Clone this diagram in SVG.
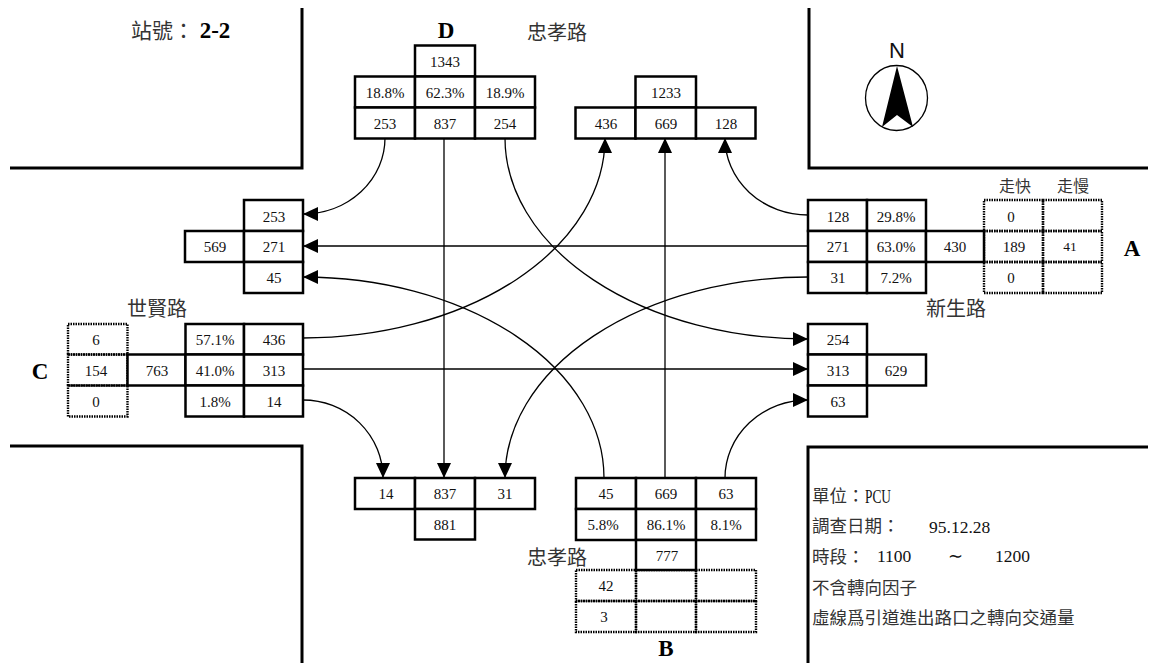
<svg xmlns="http://www.w3.org/2000/svg" width="1159" height="664" viewBox="0 0 1159 664">
<style>
text{font-family:"Liberation Serif","Noto Sans CJK TC",serif;font-size:15px;fill:#111;text-anchor:middle}
.cjk{font-family:"Noto Sans CJK TC","Liberation Serif",sans-serif;fill:#333;text-anchor:start;font-size:20px}
.leg{font-size:17.5px}
.hd{font-size:16px}
.ttl{font-size:21px}
.b{font-weight:bold;font-size:23px;fill:#000}
.n{font-size:17.5px;text-anchor:start}
.c{fill:#fff;stroke:#000;stroke-width:2.5}
.d{fill:none;stroke:#000;stroke-width:2.4;stroke-dasharray:1.5 1}
.road{fill:none;stroke:#000;stroke-width:3}
.con{fill:none;stroke:#000;stroke-width:1.3;marker-end:url(#ah)}
</style>
<defs><marker id="ah" markerUnits="userSpaceOnUse" markerWidth="16" markerHeight="15" refX="15" refY="7" orient="auto"><path d="M0 0L15 7L0 14Z" fill="#000"/></marker></defs>
<rect width="1159" height="664" fill="#fff"/>
<g id="roads">
<path class="road" d="M10 168H302V8"/>
<path class="road" d="M10 446H302V663"/>
<path class="road" d="M809 8V168H1148"/>
<path class="road" d="M808 663V447H1148"/>
</g>
<g id="title"><text class="cjk ttl" x="131" y="38">站號&#xFF1A;</text><text class="b" x="215" y="38">2-2</text></g>
<g id="compass">
<text x="897" y="58" style="font-family:'Liberation Sans',sans-serif;font-size:22px">N</text>
<ellipse cx="896.5" cy="98" rx="31" ry="32.5" fill="#fff" stroke="#000" stroke-width="1.3"/>
<path d="M897 66L882 127L897 115L913 127Z" fill="#000"/>
</g>
<g id="connectors">
<path class="con" d="M385 138A82 76 0 0 1 303 214"/>
<path class="con" d="M808 246H303"/>
<path class="con" d="M604 478A301 201 0 0 0 303 277"/>
<path class="con" d="M303 338A302 200 0 0 0 605 138"/>
<path class="con" d="M505 138A303 201 0 0 0 808 339"/>
<path class="con" d="M808 277A303 201 0 0 0 505 478"/>
<path class="con" d="M808 215A83 77 0 0 1 725 138"/>
<path class="con" d="M725 478A83 78 0 0 1 808 400"/>
<path class="con" d="M303 400A80 78 0 0 1 383 478"/>
<path class="con" d="M303 369H808"/>
<path class="con" d="M444 138V478"/>
<path class="con" d="M665 478V138"/>
</g>
<g id="node-D">
<rect class="c" x="415" y="45.5" width="60" height="31"/><text x="445" y="67">1343</text>
<rect class="c" x="355" y="76.5" width="60" height="31"/><text x="385" y="98">18.8%</text>
<rect class="c" x="415" y="76.5" width="60" height="31"/><text x="445" y="98">62.3%</text>
<rect class="c" x="475" y="76.5" width="60" height="31"/><text x="505" y="98">18.9%</text>
<rect class="c" x="355" y="107.5" width="60" height="31"/><text x="385" y="129">253</text>
<rect class="c" x="415" y="107.5" width="60" height="31"/><text x="445" y="129">837</text>
<rect class="c" x="475" y="107.5" width="60" height="31"/><text x="505" y="129">254</text>
<text class="b" x="446" y="38">D</text>
<text class="cjk" x="527" y="40">忠孝路</text>
</g>
<g id="node-D-in">
<rect class="c" x="635.5" y="76.5" width="60.5" height="31"/><text x="666" y="98">1233</text>
<rect class="c" x="575.5" y="107.5" width="60" height="31"/><text x="606" y="129">436</text>
<rect class="c" x="635.5" y="107.5" width="60.5" height="31"/><text x="666" y="129">669</text>
<rect class="c" x="696" y="107.5" width="59.5" height="31"/><text x="726" y="129">128</text>
</g>
<g id="node-C-in">
<rect class="c" x="244" y="200" width="59" height="31"/><text x="274" y="222">253</text>
<rect class="c" x="185" y="231" width="59" height="31"/><text x="215" y="252">569</text>
<rect class="c" x="244" y="231" width="59" height="31"/><text x="274" y="252">271</text>
<rect class="c" x="244" y="262" width="59" height="31"/><text x="274" y="283">45</text>
</g>
<g id="node-C">
<text class="cjk" x="127" y="316">世賢路</text>
<rect class="d" x="68" y="324" width="59.5" height="30.5"/><text x="96" y="345">6</text>
<rect class="d" x="68" y="354.5" width="59.5" height="31"/><text x="96" y="376">154</text>
<rect class="d" x="68" y="385.5" width="59.5" height="31"/><text x="96" y="407">0</text>
<rect class="c" x="127.5" y="354.5" width="58" height="31"/><text x="157" y="376">763</text>
<rect class="c" x="185.5" y="324" width="58.5" height="30.5"/><text x="215" y="345">57.1%</text>
<rect class="c" x="244" y="324" width="59" height="30.5"/><text x="274" y="345">436</text>
<rect class="c" x="185.5" y="354.5" width="58.5" height="31"/><text x="215" y="376">41.0%</text>
<rect class="c" x="244" y="354.5" width="59" height="31"/><text x="274" y="376">313</text>
<rect class="c" x="185.5" y="385.5" width="58.5" height="31"/><text x="215" y="407">1.8%</text>
<rect class="c" x="244" y="385.5" width="59" height="31"/><text x="274" y="407">14</text>
<text class="b" x="40" y="379">C</text>
</g>
<g id="node-A">
<text class="cjk hd" x="999" y="192">走快</text>
<text class="cjk hd" x="1057" y="192">走慢</text>
<rect class="d" x="984" y="200" width="59" height="31"/><text x="1011" y="222">0</text>
<rect class="d" x="1043" y="200" width="59" height="31"/>
<rect class="d" x="984" y="231" width="59" height="31"/><text x="1014" y="252">189</text>
<rect class="d" x="1043" y="231" width="59" height="31"/><text x="1070" y="251" style="font-size:13.5px">41</text>
<rect class="d" x="984" y="262" width="59" height="31"/><text x="1011" y="283">0</text>
<rect class="d" x="1043" y="262" width="59" height="31"/>
<rect class="c" x="808" y="200" width="59" height="31"/><text x="838" y="222">128</text>
<rect class="c" x="867" y="200" width="59" height="31"/><text x="896" y="222">29.8%</text>
<rect class="c" x="808" y="231" width="59" height="31"/><text x="838" y="252">271</text>
<rect class="c" x="867" y="231" width="59" height="31"/><text x="896" y="252">63.0%</text>
<rect class="c" x="926" y="231" width="58" height="31"/><text x="955" y="252">430</text>
<rect class="c" x="808" y="262" width="59" height="31"/><text x="838" y="283">31</text>
<rect class="c" x="867" y="262" width="59" height="31"/><text x="896" y="283">7.2%</text>
<text class="b" x="1132" y="256">A</text>
<text class="cjk" x="926" y="316">新生路</text>
</g>
<g id="node-A-in">
<rect class="c" x="808" y="324" width="59" height="30.5"/><text x="838" y="345">254</text>
<rect class="c" x="808" y="354.5" width="59" height="31"/><text x="838" y="376">313</text>
<rect class="c" x="867" y="354.5" width="59" height="31"/><text x="896" y="376">629</text>
<rect class="c" x="808" y="385.5" width="59" height="31"/><text x="838" y="407">63</text>
</g>
<g id="node-B-in">
<rect class="c" x="355" y="478" width="60" height="31"/><text x="386" y="499">14</text>
<rect class="c" x="415" y="478" width="60" height="31"/><text x="445" y="499">837</text>
<rect class="c" x="475" y="478" width="60" height="31"/><text x="505" y="499">31</text>
<rect class="c" x="415" y="509" width="60" height="30.5"/><text x="445" y="530">881</text>
</g>
<g id="node-B">
<rect class="d" x="576" y="570" width="60" height="31"/><text x="606" y="591">42</text>
<rect class="d" x="636" y="570" width="60" height="31"/>
<rect class="d" x="696" y="570" width="60" height="31"/>
<rect class="d" x="576" y="601" width="60" height="31"/><text x="604" y="622">3</text>
<rect class="d" x="636" y="601" width="60" height="31"/>
<rect class="d" x="696" y="601" width="60" height="31"/>
<rect class="c" x="576" y="478" width="60" height="31"/><text x="606" y="499">45</text>
<rect class="c" x="636" y="478" width="60" height="31"/><text x="666" y="499">669</text>
<rect class="c" x="696" y="478" width="60" height="31"/><text x="726" y="499">63</text>
<rect class="c" x="576" y="509" width="60" height="31"/><text x="603" y="530">5.8%</text>
<rect class="c" x="636" y="509" width="60" height="31"/><text x="666" y="530">86.1%</text>
<rect class="c" x="696" y="509" width="60" height="31"/><text x="726" y="530">8.1%</text>
<text class="cjk" x="527" y="565">忠孝路</text>
<rect class="c" x="636" y="540" width="60" height="30"/><text x="667" y="561">777</text>
<text class="b" x="666" y="656">B</text>
</g>
<g id="legend">
<text class="cjk leg" x="812" y="502">單位&#xFF1A;</text>
<text class="n" x="865" y="503" textLength="26" lengthAdjust="spacingAndGlyphs" style="font-size:19px">PCU</text>
<text class="cjk leg" x="812" y="532">調查日期&#xFF1A;</text>
<text class="n" x="929" y="533">95.12.28</text>
<text class="cjk leg" x="812" y="563">時段&#xFF1A;</text>
<text class="n" x="877" y="562">1100</text>
<text class="n" x="948" y="562">∼</text>
<text class="n" x="995" y="562">1200</text>
<text class="cjk leg" x="812" y="594">不含轉向因子</text>
<text class="cjk leg" x="812" y="624">虛線爲引道進出路口之轉向交通量</text>
</g>
</svg>
